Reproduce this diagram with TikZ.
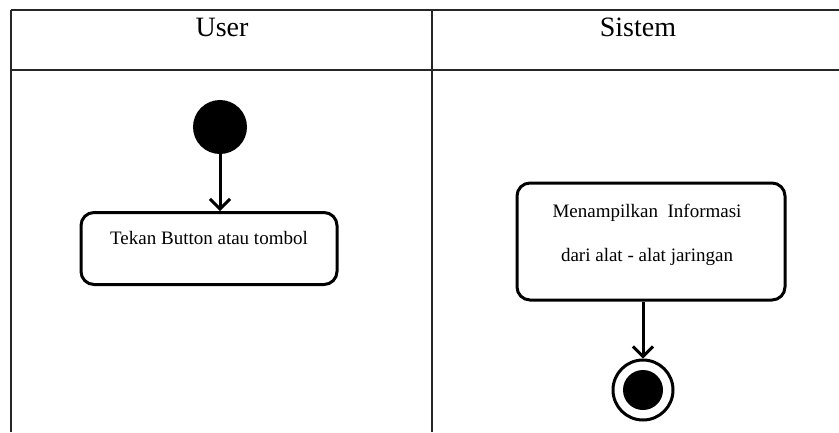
\documentclass[tikz,border=0pt]{standalone}
\usepackage{fontspec}
\setmainfont{Liberation Serif}
\usetikzlibrary{arrows.meta}
\begin{document}
\begin{tikzpicture}[x=1pt,y=-1pt,
  lane/.style={line width=1.5pt, draw=black!85},
  activity/.style={draw, line width=3pt, rounded corners=13pt, inner sep=0pt},
  flow/.style={line width=3pt, -{Straight Barb[length=10pt,width=20pt,line width=3pt]}},
  boxtext/.style={font=\fontsize{19}{21}\selectfont, inner sep=0pt},
  header/.style={font=\fontsize{28}{30}\selectfont, inner sep=0pt}]
\useasboundingbox (0,0) rectangle (839,432);

% swimlane frame
\coordinate (tl) at (11,10);
\coordinate (tr) at (839,10);
\coordinate (hl) at (11,70);
\coordinate (hr) at (839,70);
\coordinate (bl) at (11,432);
\coordinate (mt) at (432,10);
\coordinate (mb) at (432,432);
\draw[lane] (tl) -- (tr);
\draw[lane] (hl) -- (hr);
\draw[lane] (tl) -- (bl);
\draw[lane] (mt) -- (mb);

% lane titles
\node[header] (huser) at (222,27) {User};
\node[header] (hsys) at (638,27) {Sistem};

% initial node
\node[circle, fill=black, minimum size=54pt, inner sep=0pt] (start) at (220,127) {};

% activities
\node[activity, minimum width=256pt, minimum height=72pt] (act1) at (209,248.5) {};
\node[boxtext] (t1) at (209,238) {Tekan Button atau tombol};

\node[activity, minimum width=268pt, minimum height=117pt] (act2) at (651,241.5) {};
\node[boxtext] (t2a) at (647,213) {Menampilkan\ \ Informasi};
\node[boxtext] (t2b) at (647,257) {dari alat - alat jaringan};

% final node
\node[circle, draw, line width=3pt, minimum size=60pt, inner sep=0pt] (end) at (643,390) {};
\node[circle, fill=black, minimum size=40pt, inner sep=0pt] (endin) at (end.center) {};

% control flow
\draw[flow] (start.south) -- (start.south |- act1.north);
\draw[flow] (end.north |- act2.south) -- (end.north);
\end{tikzpicture}
\end{document}
